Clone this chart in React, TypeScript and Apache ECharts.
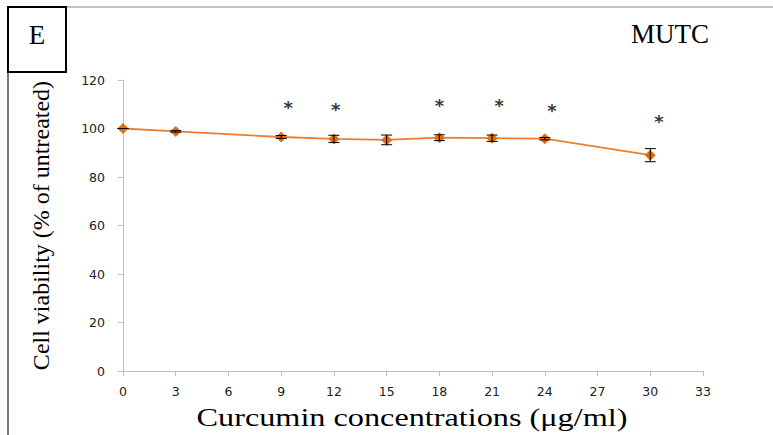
import React, { useEffect, useRef } from "react";
import * as echarts from "echarts";

const concentrations = [0, 3, 9, 12, 15, 18, 21, 24, 30];
const viability = [100, 98.8, 96.5, 95.7, 95.3, 96.2, 96.0, 95.8, 89.0];
const errors = [0, 0.3, 0.6, 1.5, 2.0, 1.2, 1.3, 0.5, 2.7];
const starX = [9.4, 12.1, 18.0, 21.4, 24.4, 30.5];
const starY = [108.5, 107.8, 109.5, 109.5, 107.5, 103.0];
const xTitle = "Curcumin concentrations (μg/ml)";
const yTitle = "Cell viability (% of untreated)";
const panelLabel = "E";
const cellLine = "MUTC";

export default function App() {
  const ref = useRef<HTMLDivElement>(null);
  useEffect(() => {
    const chart = echarts.init(ref.current!, undefined, { renderer: "svg" });
    const lineData = concentrations.map((c, i) => [c, viability[i]]);
    const errData = concentrations.map((c, i) => [c, viability[i] - errors[i], viability[i] + errors[i]]);
    const starData = starX.map((x, i) => [x, starY[i]]);
    chart.setOption({
      animation: false,
      backgroundColor: "#ffffff",
      grid: { left: 123, right: 70, top: 80, bottom: 64 },
      xAxis: {
        type: "value",
        min: 0,
        max: 33,
        interval: 3,
        axisLine: { show: true, lineStyle: { color: "#BFBFBF", width: 1 } },
        axisTick: { show: true, length: 5, lineStyle: { color: "#BFBFBF" } },
        axisLabel: { fontFamily: "DejaVu Sans", fontSize: 12.5, color: "#222", margin: 14 },
        splitLine: { show: false },
      },
      yAxis: {
        type: "value",
        min: 0,
        max: 120,
        interval: 20,
        name: yTitle,
        nameLocation: "middle",
        nameGap: 70,
        nameTextStyle: { fontFamily: "Liberation Serif", fontSize: 24, color: "#000" },
        axisLine: { show: true, lineStyle: { color: "#BFBFBF", width: 1 } },
        axisTick: { show: true, length: 5, lineStyle: { color: "#BFBFBF" } },
        axisLabel: { fontFamily: "DejaVu Sans", fontSize: 12.5, color: "#222", margin: 18 },
        splitLine: { show: false },
      },
      series: [
        {
          type: "line",
          data: lineData,
          symbol: "diamond",
          symbolSize: 11,
          itemStyle: { color: "#E46C0A" },
          lineStyle: { color: "#ED7D31", width: 1.8 },
          z: 3,
        },
        {
          type: "custom",
          data: errData,
          z: 4,
          renderItem: (params: any, api: any) => {
            const x = api.value(0);
            const lo = api.coord([x, api.value(1)]);
            const hi = api.coord([x, api.value(2)]);
            const hw = 5.5;
            const style = { stroke: "#000", lineWidth: 1 };
            return {
              type: "group",
              children: [
                { type: "line", shape: { x1: lo[0], y1: lo[1], x2: hi[0], y2: hi[1] }, style },
                { type: "line", shape: { x1: lo[0] - hw, y1: lo[1], x2: lo[0] + hw, y2: lo[1] }, style },
                { type: "line", shape: { x1: hi[0] - hw, y1: hi[1], x2: hi[0] + hw, y2: hi[1] }, style },
              ],
            };
          },
        },
        {
          type: "scatter",
          data: starData,
          symbolSize: 0,
          label: {
            show: true,
            position: "inside",
            formatter: "*",
            fontFamily: "DejaVu Sans",
            fontWeight: "bold",
            fontSize: 18,
            color: "#000",
          },
        },
      ],
      graphic: [
        { type: "line", shape: { x1: 8, y1: 7, x2: 773, y2: 7 }, style: { stroke: "#888", lineWidth: 1 } },
        { type: "line", shape: { x1: 8, y1: 7, x2: 8, y2: 435 }, style: { stroke: "#777", lineWidth: 2 } },
        { type: "rect", shape: { x: 8, y: 7, width: 58, height: 65 }, style: { fill: "#fff", stroke: "#000", lineWidth: 2 } },
        {
          type: "text",
          x: 37,
          y: 35,
          style: { text: panelLabel, fontFamily: "Liberation Serif", fontSize: 27, fill: "#000", align: "center", verticalAlign: "middle" },
        },
        {
          type: "text",
          x: 670,
          y: 34,
          style: { text: cellLine, fontFamily: "Liberation Serif", fontSize: 27, fill: "#000", align: "center", verticalAlign: "middle" },
        },
        {
          type: "text",
          x: 412,
          y: 417,
          scaleX: 1.29,
          style: { text: xTitle, fontFamily: "Liberation Serif", fontSize: 25, fill: "#000", align: "center", verticalAlign: "middle" },
        },
      ],
    });
    return () => chart.dispose();
  }, []);
  return <div ref={ref} style={{ position: "fixed", left: 0, top: 0, width: 773, height: 435 }} />;
}
